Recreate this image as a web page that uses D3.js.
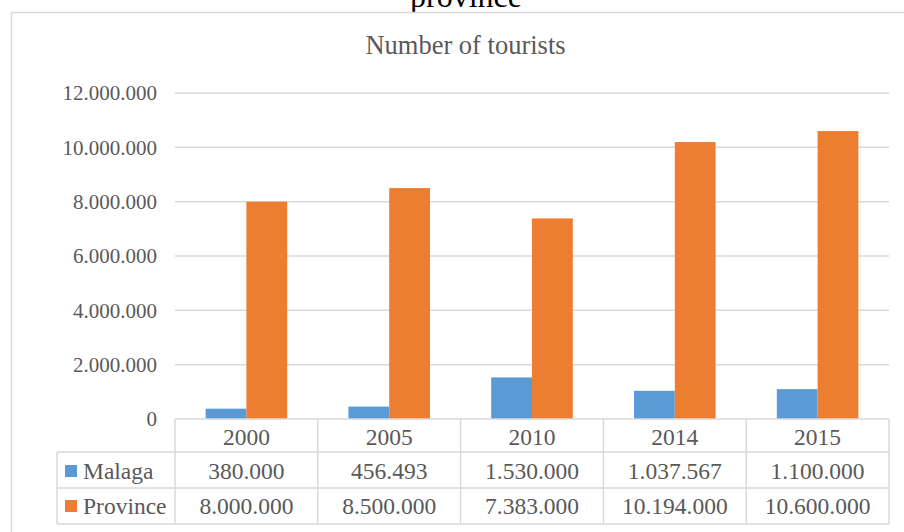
<!DOCTYPE html>
<html>
<head>
<meta charset="utf-8">
<script src="https://cdn.jsdelivr.net/npm/d3@7"></script>
<style>
html,body{margin:0;padding:0;background:#fff;}
svg{display:block;}
</style>
</head>
<body>
<svg id="chart" width="904" height="532"></svg>
<script>
const categories = ["2000", "2005", "2010", "2014", "2015"];
const seriesNames = ["Malaga", "Province"];
const malaga = [380000, 456493, 1530000, 1037567, 1100000];
const province = [8000000, 8500000, 7383000, 10194000, 10600000];
const malagaLabels = ["380.000", "456.493", "1.530.000", "1.037.567", "1.100.000"];
const provinceLabels = ["8.000.000", "8.500.000", "7.383.000", "10.194.000", "10.600.000"];
const yTicks = [0, 2000000, 4000000, 6000000, 8000000, 10000000, 12000000];
const yTickLabels = ["0", "2.000.000", "4.000.000", "6.000.000", "8.000.000", "10.000.000", "12.000.000"];
const colors = ["#5B9BD5", "#ED7D31"];

const seriesValues = [malaga, province];
const seriesLabels = [malagaLabels, provinceLabels];

const svg = d3.select("#chart");
const font = "'Liberation Serif', 'Times New Roman', serif";
const textColor = "#595959";
const lineColor = "#D9D9D9";

// clipped super-title
svg.append("text").attr("x", 466).attr("y", 7).attr("text-anchor", "middle")
  .attr("font-family", font).attr("font-size", 32).attr("fill", "#000").text("province");

// chart border
svg.append("rect").attr("x", 11.5).attr("y", 12.5).attr("width", 920).attr("height", 540)
  .attr("fill", "#fff").attr("stroke", lineColor).attr("stroke-width", 1.5);

// title
svg.append("text").attr("x", 465.5).attr("y", 54).attr("text-anchor", "middle")
  .attr("font-family", font).attr("font-size", 26.5).attr("fill", textColor).text("Number of tourists");

const plotLeft = 175, plotRight = 889, plotTop = 93, plotBottom = 419;

const x0 = d3.scaleBand().domain(categories).range([plotLeft, plotRight]).padding(0);
const x1 = d3.scaleBand().domain(seriesNames).range([0, x0.bandwidth()]).paddingInner(0).paddingOuter(0.75);
const y = d3.scaleLinear().domain([0, 12000000]).range([plotBottom, plotTop]);

// gridlines
svg.append("g").selectAll("line").data(yTicks.slice(1)).join("line")
  .attr("x1", plotLeft).attr("x2", plotRight)
  .attr("y1", d => y(d)).attr("y2", d => y(d))
  .attr("stroke", lineColor).attr("stroke-width", 1.5);

// y-axis labels via d3 axis
const yAxis = d3.axisLeft(y).tickValues(yTicks).tickSize(0).tickPadding(0)
  .tickFormat((d, i) => yTickLabels[i]);
const yg = svg.append("g").attr("transform", "translate(157,0)").call(yAxis);
yg.select(".domain").remove();
yg.selectAll("text").attr("font-family", font).attr("font-size", 21).attr("fill", textColor).attr("dy", "0.33em");

// bars
const groups = svg.append("g").selectAll("g").data(categories).join("g")
  .attr("transform", d => `translate(${x0(d)},0)`);
groups.selectAll("rect").data((d, i) => seriesNames.map((s, k) => ({s, v: seriesValues[k][i], k})))
  .join("rect")
  .attr("x", d => x1(d.s)).attr("width", x1.bandwidth())
  .attr("y", d => y(d.v)).attr("height", d => y(0) - y(d.v))
  .attr("fill", d => colors[d.k]);

// data table
const rowTop = [419, 452, 488, 524];
const tableLeft = 57;
const tg = svg.append("g");
const hl = [
  {x1: plotLeft, x2: plotRight, y: rowTop[0]},
  {x1: tableLeft, x2: plotRight, y: rowTop[1]},
  {x1: tableLeft, x2: plotRight, y: rowTop[2]},
  {x1: tableLeft, x2: plotRight, y: rowTop[3]}
];
tg.selectAll("line.h").data(hl).join("line").attr("class", "h")
  .attr("x1", d => d.x1).attr("x2", d => d.x2).attr("y1", d => d.y).attr("y2", d => d.y)
  .attr("stroke", lineColor).attr("stroke-width", 1.5);
const vxs = categories.map(c => x0(c)).concat([plotRight]);
tg.selectAll("line.v").data(vxs).join("line").attr("class", "v")
  .attr("x1", d => d).attr("x2", d => d).attr("y1", rowTop[0]).attr("y2", rowTop[3])
  .attr("stroke", lineColor).attr("stroke-width", 1.5);
tg.append("line").attr("x1", tableLeft).attr("x2", tableLeft).attr("y1", rowTop[1]).attr("y2", rowTop[3])
  .attr("stroke", lineColor).attr("stroke-width", 1.5);

// header years
tg.selectAll("text.yr").data(categories).join("text").attr("class", "yr")
  .attr("x", d => x0(d) + x0.bandwidth() / 2).attr("y", 445)
  .attr("text-anchor", "middle").attr("font-family", font).attr("font-size", 23.5).attr("fill", textColor)
  .text(d => d);

const rowBase = [479, 514];
seriesNames.forEach((s, k) => {
  tg.append("rect").attr("x", 65).attr("y", rowBase[k] - 14).attr("width", 12).attr("height", 12).attr("fill", colors[k]);
  tg.append("text").attr("x", 83).attr("y", rowBase[k]).attr("font-family", font).attr("font-size", 23.5)
    .attr("fill", textColor).text(s);
  tg.selectAll("text.v" + k).data(categories).join("text").attr("class", "v" + k)
    .attr("x", d => x0(d) + x0.bandwidth() / 2).attr("y", rowBase[k])
    .attr("text-anchor", "middle").attr("font-family", font).attr("font-size", 23.5).attr("fill", textColor)
    .text((d, i) => seriesLabels[k][i]);
});
</script>
</body>
</html>
